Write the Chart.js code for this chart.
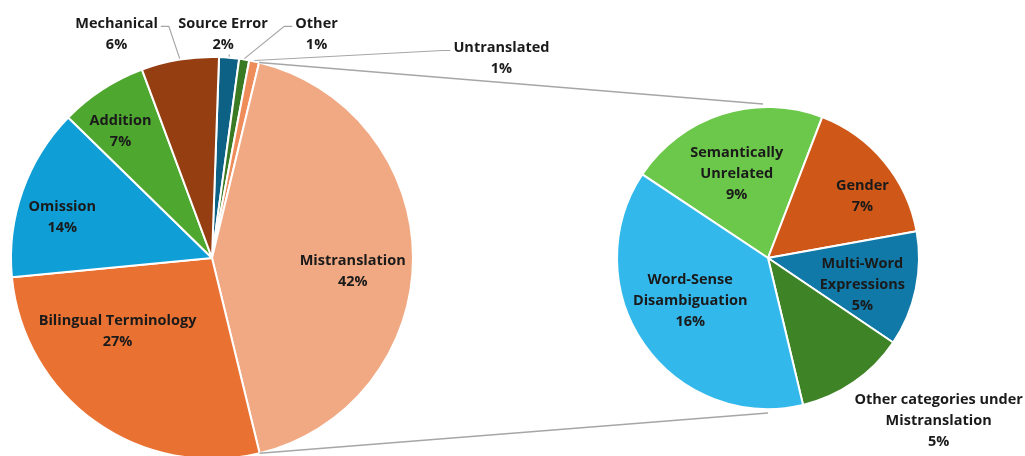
<!DOCTYPE html>
<html>
<head>
<meta charset="utf-8">
<script src="https://cdn.jsdelivr.net/npm/chart.js@4.4.1/dist/chart.umd.min.js"></script>
<style>
    html, body { margin: 0; padding: 0; background: #fff; overflow: hidden; width: 1025px; height: 456px; }
    canvas { position: absolute; left: 0; top: 0; }
</style>
</head>
<body>
<canvas id="mainPie" width="1025" height="460"></canvas>
<canvas id="subPie" width="1025" height="460"></canvas>
<script>
// main pie (clockwise from 12 o'clock)
const mainCategories = [['Source Error'], ['Other'], ['Untranslated'], ['Mistranslation'], ['Bilingual Terminology'], ['Omission'], ['Addition'], ['Mechanical']];
const mainValues = [1.6, 0.8, 0.8, 42.3, 27.2, 13.8, 7.0, 6.2];
const mainColors = ['#0C6185', '#3A7A22', '#EE8C5A', '#F1A983', '#E97132', '#0F9ED5', '#4EA72E', '#953E11'];

// breakdown of Mistranslation (second pie)
const subCategories = [['Semantically', 'Unrelated'], ['Gender'], ['Multi-Word', 'Expressions'], ['Other categories under', 'Mistranslation'], ['Word-Sense', 'Disambiguation']];
const subValues = [9.1, 6.9, 5.2, 5.0, 16.1];
const subColors = ['#6CC84A', '#CF5818', '#1179A8', '#3E8326', '#33B8EC'];

const totalMain = mainValues.reduce((a, b) => a + b, 0);
const FONT = 'bold 14.5px "Open Sans"';
const LINE_H = 21;
const INK = '#1a1a1a';
const GREY = '#a6a6a6';

// label placement, relative to pie centre in units of radius
const mainLabelPos = [
    { dx: 0.055, dy: -1.115, leader: 'bottom' },
    { dx: 0.52, dy: -1.115, leader: 'left' },
    { dx: 1.44, dy: -0.995, leader: 'left' },
    { dx: 0.70, dy: 0.065 },
    { dx: -0.47, dy: 0.365 },
    { dx: -0.745, dy: -0.2 },
    { dx: -0.455, dy: -0.63 },
    { dx: -0.475, dy: -1.115, leader: 'right' }
];
const subLabelPos = [
    { dx: -0.207, dy: -0.56 },
    { dx: 0.625, dy: -0.405 },
    { dx: 0.625, dy: 0.175 },
    { dx: 1.13, dy: 1.08 },
    { dx: -0.515, dy: 0.285 }
];

const pieLabels = {
    id: 'pieLabels',
    afterDatasetsDraw(chart, args, opts) {
        const { ctx } = chart;
        const meta = chart.getDatasetMeta(0);
        const values = chart.data.datasets[0].data;
        ctx.save();
        ctx.font = FONT;
        ctx.textAlign = 'center';
        ctx.textBaseline = 'middle';
        opts.positions.forEach((pos, i) => {
            const arc = meta.data[i];
            const r = arc.outerRadius;
            const lines = opts.names[i].concat([Math.round(values[i] / totalMain * 100) + '%']);
            const x = arc.x + pos.dx * r;
            const y0 = arc.y + pos.dy * r - (lines.length - 1) * LINE_H / 2;
            ctx.fillStyle = INK;
            lines.forEach((t, k) => ctx.fillText(t, x, y0 + k * LINE_H));

            if (pos.leader) {
                const mid = (arc.startAngle + arc.endAngle) / 2;
                const px = arc.x + (r + 1) * Math.cos(mid);
                const py = arc.y + (r + 1) * Math.sin(mid);
                const w = ctx.measureText(lines[0]).width;
                ctx.strokeStyle = GREY;
                ctx.lineWidth = 1.2;
                ctx.beginPath();
                ctx.moveTo(px, py);
                if (pos.leader === 'bottom') {
                    ctx.lineTo(px, y0 + (lines.length - 1) * LINE_H + 10);
                } else {
                    const sgn = pos.leader === 'right' ? 1 : -1;
                    const ex = x + sgn * (w / 2 + 3);
                    ctx.lineTo(ex + sgn * 8, y0 + 3);
                    ctx.lineTo(ex, y0 + 3);
                }
                ctx.stroke();
            }
        });
        ctx.restore();
    }
};

function pieOptions(rotation, padding, names, positions) {
    return {
        responsive: false,
        animation: false,
        rotation: rotation,
        layout: { padding: padding },
        plugins: {
            legend: { display: false },
            tooltip: { enabled: false },
            pieLabels: { names: names, positions: positions }
        }
    };
}

const mainChart = new Chart(document.getElementById('mainPie'), {
    type: 'pie',
    data: {
        labels: mainCategories.map(c => c.join(' ')),
        datasets: [{ data: mainValues, backgroundColor: mainColors, borderColor: '#fff', borderWidth: 2 }]
    },
    options: pieOptions(2, { left: 10, top: 56, right: 611, bottom: 0 }, mainCategories, mainLabelPos),
    plugins: [pieLabels]
});

// connector lines from the Mistranslation slice to the second pie
const connectors = {
    id: 'connectors',
    afterDraw(chart) {
        const { ctx } = chart;
        const src = mainChart.getDatasetMeta(0).data[3];
        const dst = chart.getDatasetMeta(0).data[0];
        const r = src.outerRadius;
        ctx.save();
        ctx.strokeStyle = GREY;
        ctx.lineWidth = 1.5;
        ctx.beginPath();
        ctx.moveTo(src.x + r * Math.cos(src.startAngle), src.y + r * Math.sin(src.startAngle));
        ctx.lineTo(dst.x - 5, dst.y - dst.outerRadius - 3);
        ctx.moveTo(src.x + r * Math.cos(src.endAngle), src.y + r * Math.sin(src.endAngle));
        ctx.lineTo(dst.x, dst.y + dst.outerRadius + 4);
        ctx.stroke();
        ctx.restore();
    }
};

const subChart = new Chart(document.getElementById('subPie'), {
    type: 'pie',
    data: {
        labels: subCategories.map(c => c.join(' ')),
        datasets: [{ data: subValues, backgroundColor: subColors, borderColor: '#fff', borderWidth: 2 }]
    },
    options: pieOptions(-56.4, { left: 616, top: 106, right: 105, bottom: 50 }, subCategories, subLabelPos),
    plugins: [pieLabels, connectors]
});
</script>
</body>
</html>
